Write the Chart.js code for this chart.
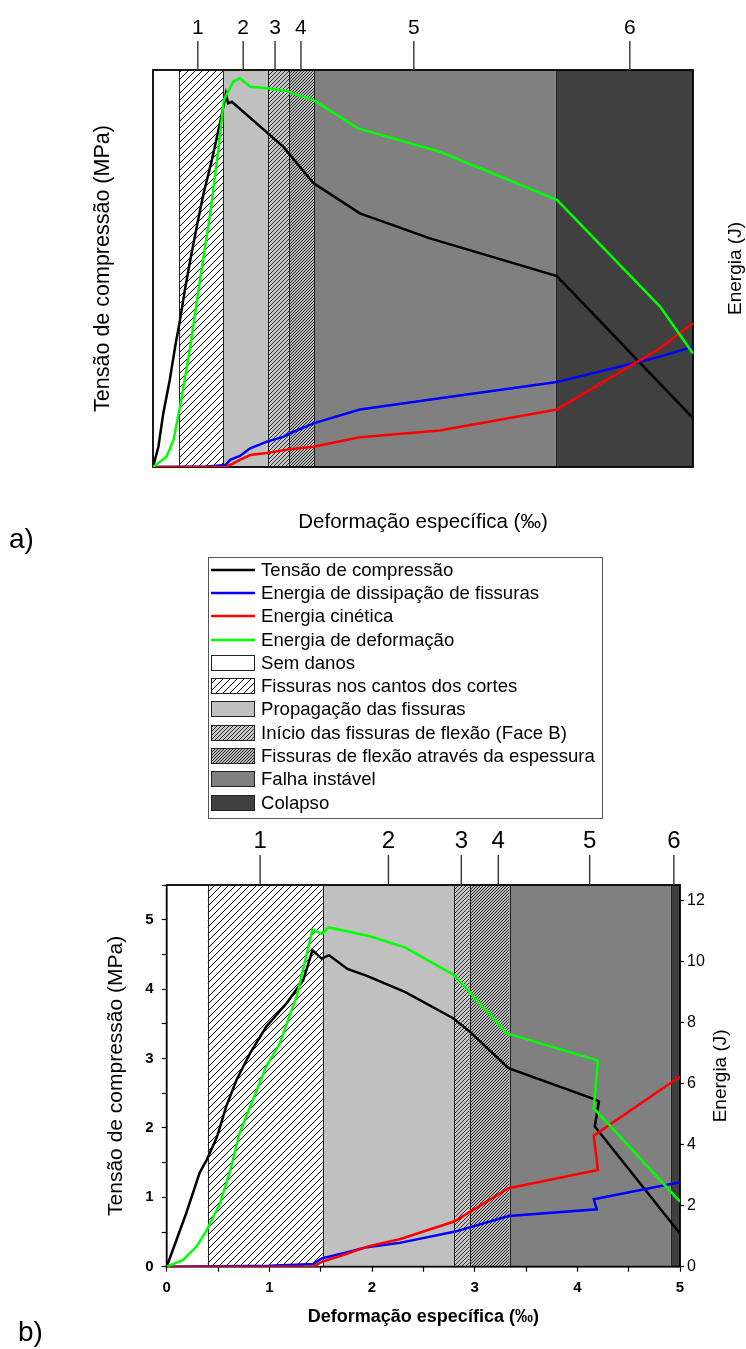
<!DOCTYPE html>
<html lang="pt">
<head>
<meta charset="utf-8">
<title>Tensão e energia x deformação específica</title>
<script src="https://cdn.jsdelivr.net/npm/chart.js@4.4.1/dist/chart.umd.min.js"></script>
<style>
  html, body { margin: 0; padding: 0; background: #fff; }
  body { width: 746px; height: 1349px; position: relative; overflow: hidden;
         font-family: "Liberation Sans", Arial, sans-serif; color: #000; }
  canvas.plot { position: absolute; left: 0; }
  #chartA { top: 0; }
  #chartB { top: 820px; }
  .tag { position: absolute; font-size: 28px; line-height: 1; }
  #legend { position: absolute; left: 208px; top: 557px; width: 393px; height: 260px;
            border: 1px solid #555; }
  .row { height: 23.3px; display: flex; align-items: center; font-size: 18.6px; white-space: nowrap; }
  .row canvas { display: block; margin-left: 2px; margin-right: 6px; }
</style>
</head>
<body>
<canvas id="chartA" class="plot" width="746" height="545"></canvas>
<div class="tag" style="left:9px; top:525px;">a)</div>
<div id="legend"></div>
<canvas id="chartB" class="plot" width="746" height="529"></canvas>
<div class="tag" style="left:18px; top:1318px;">b)</div>
<script>
// ---- a) (eixos sem escala) : [deformação, valor]
const tensaoA = [[0,0],[0.10,5.1],[0.19,13.5],[0.31,21.9],[0.41,30.3],[0.50,37.0],[0.59,44.6],[0.69,52.1],
  [0.81,60.5],[0.93,68.5],[1.09,77.3],[1.24,86.6],[1.35,94.0],[1.39,91.6],[1.46,92.0],[2.41,80.7],
  [2.97,71.5],[3.83,63.9],[5.13,57.6],[7.48,48.1],[10,12.3]];
const dissipacaoA = [[0,0],[1.0,0.1],[1.34,0.5],[1.43,1.8],[1.61,2.8],[1.80,4.7],[2.11,6.4],[2.41,7.6],
  [2.54,8.5],[2.97,11.0],[3.83,14.5],[5.31,17.3],[7.48,21.4],[9.39,27.8],[10,30.3]];
const cineticaA = [[0,0],[1.34,0],[1.49,0.9],[1.61,1.8],[1.80,3.0],[2.11,3.5],[2.54,4.5],[2.97,5.1],
  [3.83,7.5],[5.31,9.2],[7.48,14.5],[9.39,29.9],[10,36.2]];
const deformacaoA = [[0,0],[0.25,2.6],[0.38,6.8],[0.50,15.2],[0.69,30.3],[0.87,47.1],[1.06,63.9],
  [1.21,79.8],[1.31,92.4],[1.39,94.5],[1.49,97.1],[1.61,97.9],[1.80,95.8],[2.11,95.4],[2.44,94.8],
  [2.97,92.4],[3.80,85.3],[5.31,79.4],[7.48,67.3],[9.39,40.4],[10,28.6]];
const stagesA = [0, 0.49, 1.30, 2.13, 2.52, 2.98, 7.46, 10];
const stageMarksA = [0.83, 1.67, 2.26, 2.74, 4.83, 8.83];

// ---- b) tensão em MPa, energias em J
const tensaoB = [[0,0],[0.19,0.77],[0.32,1.35],[0.39,1.54],[0.49,1.87],[0.58,2.31],[0.68,2.69],
  [0.81,3.07],[0.97,3.46],[1.17,3.80],[1.33,4.13],[1.42,4.56],[1.51,4.44],[1.58,4.49],[1.76,4.29],
  [1.95,4.19],[2.32,3.96],[2.79,3.58],[2.95,3.39],[3.33,2.86],[4.19,2.40],[4.21,2.38],[4.17,2.02],[5,0.48]];
const dissipacaoB = [[0,0],[1.0,0.03],[1.43,0.09],[1.51,0.27],[1.75,0.47],[1.95,0.64],[2.27,0.78],
  [2.81,1.15],[3.33,1.66],[4.19,1.88],[4.16,2.21],[5,2.77]];
const cineticaB = [[0,0],[1.43,0],[1.51,0.16],[1.69,0.35],[1.98,0.68],[2.27,0.90],[2.80,1.48],
  [3.33,2.57],[4.20,3.17],[4.16,4.29],[5,6.23]];
const deformacaoB = [[0,0],[0.16,0.22],[0.29,0.66],[0.39,1.20],[0.52,2.08],[0.62,3.17],[0.71,4.37],
  [0.84,5.47],[0.97,6.56],[1.10,7.3],[1.27,8.9],[1.42,11.04],[1.51,10.90],[1.58,11.11],[1.98,10.82],
  [2.32,10.46],[2.80,9.55],[3.31,7.65],[4.20,6.75],[4.16,5.19],[5,2.13]];
const stagesB = [0, 0.4, 1.52, 2.8, 2.95, 3.34, 4.91, 5];
const stageMarksB = [0.91, 2.16, 2.87, 3.23, 4.12, 4.94];

const stageNumbers = ['1', '2', '3', '4', '5', '6'];
const seriesNames = ['Tensão de compressão', 'Energia de dissipação de fissuras', 'Energia cinética', 'Energia de deformação'];
const stageNames = ['Sem danos', 'Fissuras nos cantos dos cortes', 'Propagação das fissuras',
  'Início das fissuras de flexão (Face B)', 'Fissuras de flexão através da espessura', 'Falha instável', 'Colapso'];
const energyTitle = 'Energia (J)';

const FONT = '"Liberation Sans", Arial, sans-serif';
Chart.defaults.font.family = FONT;
Chart.defaults.color = '#000';

const seriesColors = ['#000000', '#0000ff', '#ff0000', '#00ff00'];

// diagonal "/" hatch tile
function hatch(bg, step, ink) {
  const tile = document.createElement('canvas');
  tile.width = tile.height = step;
  const t = tile.getContext('2d');
  t.fillStyle = bg;
  t.fillRect(0, 0, step, step);
  t.strokeStyle = ink;
  t.lineWidth = 1;
  t.beginPath();
  t.moveTo(0, step); t.lineTo(step, 0);
  t.moveTo(-1, 1); t.lineTo(1, -1);
  t.moveTo(step - 1, step + 1); t.lineTo(step + 1, step - 1);
  t.stroke();
  return t.createPattern(tile, 'repeat');
}

const stageFills = ['#ffffff', hatch('#ffffff', 7, '#000'), '#c0c0c0',
  hatch('#c4c4c4', 4, '#333'), hatch('#b4b4b4', 3, '#333'), '#808080', '#404040'];

// background bands, frame, numbered marks above the plot, right-hand title
const stagePlugin = {
  id: 'stages',
  beforeDatasetsDraw(chart, args, opts) {
    const {ctx, chartArea: a} = chart;
    const x = chart.scales.x;
    ctx.save();
    for (let i = 0; i < opts.edges.length - 1; i++) {
      const x0 = x.getPixelForValue(opts.edges[i]);
      const x1 = x.getPixelForValue(opts.edges[i + 1]);
      ctx.fillStyle = stageFills[i];
      ctx.fillRect(x0, a.top, x1 - x0, a.bottom - a.top);
    }
    ctx.strokeStyle = '#222';
    ctx.lineWidth = 1;
    for (let i = 1; i < opts.edges.length - 1; i++) {
      const px = Math.round(x.getPixelForValue(opts.edges[i])) + 0.5;
      ctx.beginPath();
      ctx.moveTo(px, a.top);
      ctx.lineTo(px, a.bottom);
      ctx.stroke();
    }
    ctx.strokeStyle = '#000';
    ctx.lineWidth = 1.8;
    ctx.strokeRect(a.left, a.top, a.right - a.left, a.bottom - a.top);

    ctx.strokeStyle = '#333';
    ctx.lineWidth = 1.4;
    ctx.fillStyle = '#000';
    ctx.font = opts.labelSize + 'px ' + FONT;
    ctx.textAlign = 'center';
    ctx.textBaseline = 'alphabetic';
    opts.marks.forEach((m, i) => {
      const px = x.getPixelForValue(m);
      ctx.beginPath();
      ctx.moveTo(px, opts.markTop);
      ctx.lineTo(px, a.top);
      ctx.stroke();
      ctx.fillText(stageNumbers[i], px, opts.labelBaseline);
    });

    // the energy axis title reads upwards, like the left one
    ctx.translate(opts.rightTitleX, (a.top + a.bottom) / 2);
    ctx.rotate(-Math.PI / 2);
    ctx.font = opts.rightTitleSize + 'px ' + FONT;
    ctx.textBaseline = 'middle';
    ctx.fillText(energyTitle, 0, 0);
    ctx.restore();
  }
};

function makeDatasets(list) {
  return list.map((pts, i) => ({
    label: seriesNames[i],
    data: pts.map(p => ({x: p[0], y: p[1]})),
    yAxisID: i === 0 ? 'y' : 'y1',
    borderColor: seriesColors[i],
    backgroundColor: seriesColors[i],
    borderWidth: 2.5,
    pointRadius: 0,
    showLine: true,
    tension: 0,
    order: list.length - 1 - i
  }));
}

const plain = {display: false};

new Chart(document.getElementById('chartA'), {
  type: 'scatter',
  data: {datasets: makeDatasets([tensaoA, dissipacaoA, cineticaA, deformacaoA])},
  options: {
    responsive: false,
    animation: false,
    events: [],
    layout: {padding: {left: 92.25, right: 0.5, top: 70, bottom: 12.75}},
    plugins: {
      legend: {display: false},
      tooltip: {enabled: false},
      stages: {edges: stagesA, marks: stageMarksA, markTop: 41, labelBaseline: 33.5, labelSize: 21,
        rightTitleX: 736, rightTitleSize: 19}
    },
    scales: {
      x: {type: 'linear', min: 0, max: 10, ticks: plain, grid: plain, border: plain,
        title: {display: true, text: 'Deformação específica (‰)', padding: 0, font: {size: 20.5, lineHeight: 1}},
        afterFit: s => { s.height = 65.25; }},
      y: {position: 'left', min: 0, max: 100, ticks: plain, grid: plain, border: plain,
        title: {display: true, text: 'Tensão de compressão (MPa)', padding: 0, font: {size: 21.5, lineHeight: 1}},
        afterFit: s => { s.width = 60.75; }},
      y1: {position: 'right', min: 0, max: 100, ticks: plain, grid: plain, border: plain,
        afterFit: s => { s.width = 52.5; }}
    }
  },
  plugins: [stagePlugin]
});

const wholeOnly = v => Number.isInteger(v) ? v : '';
const tickGrid = len => ({drawOnChartArea: false, tickLength: len, tickColor: '#000', tickWidth: 1.2});

new Chart(document.getElementById('chartB'), {
  type: 'scatter',
  data: {datasets: makeDatasets([tensaoB, dissipacaoB, cineticaB, deformacaoB])},
  options: {
    responsive: false,
    animation: false,
    events: [],
    layout: {padding: {left: 105.5, right: 15.5, top: 65, bottom: 23}},
    plugins: {
      legend: {display: false},
      tooltip: {enabled: false},
      stages: {edges: stagesB, marks: stageMarksB, markTop: 35, labelBaseline: 27.8, labelSize: 24,
        rightTitleX: 721, rightTitleSize: 19}
    },
    scales: {
      x: {type: 'linear', min: 0, max: 5,
        ticks: {stepSize: 0.5, autoSkip: false, maxRotation: 0, padding: 7, font: {size: 15, weight: 'bold'}, callback: wholeOnly},
        grid: tickGrid(5), border: plain,
        title: {display: true, text: 'Deformação específica (‰)', padding: 0, font: {size: 18, weight: 'bold', lineHeight: 1}},
        afterFit: s => { s.height = 59.3; }},
      y: {position: 'left', min: 0, max: 5.5,
        ticks: {stepSize: 0.5, autoSkip: false, padding: 8, font: {size: 15, weight: 'bold'}, callback: wholeOnly},
        grid: tickGrid(5), border: plain,
        title: {display: true, text: 'Tensão de compressão (MPa)', padding: 0, font: {size: 21, lineHeight: 1}},
        afterFit: s => { s.width = 61.2; }},
      y1: {position: 'right', min: 0, max: 12.5,
        ticks: {stepSize: 2, includeBounds: false, autoSkip: false, padding: 3, font: {size: 16}},
        grid: tickGrid(4), border: plain,
        afterFit: s => { s.width = 50.5; }}
    }
  },
  plugins: [stagePlugin]
});

// legend between the two panels
const legendBox = document.getElementById('legend');
function addRow(label, paint) {
  const row = document.createElement('div');
  row.className = 'row';
  const sw = document.createElement('canvas');
  sw.width = 44;
  sw.height = 18;
  paint(sw.getContext('2d'));
  const txt = document.createElement('span');
  txt.textContent = label;
  row.append(sw, txt);
  legendBox.appendChild(row);
}
seriesNames.forEach((name, i) => addRow(name, c => {
  c.strokeStyle = seriesColors[i];
  c.lineWidth = 2.5;
  c.beginPath();
  c.moveTo(0, 9);
  c.lineTo(44, 9);
  c.stroke();
}));
stageNames.forEach((name, i) => addRow(name, c => {
  c.fillStyle = stageFills[i];
  c.fillRect(0.5, 1.5, 43, 15);
  c.strokeStyle = '#222';
  c.lineWidth = 1;
  c.strokeRect(0.5, 1.5, 43, 15);
}));
</script>
</body>
</html>
